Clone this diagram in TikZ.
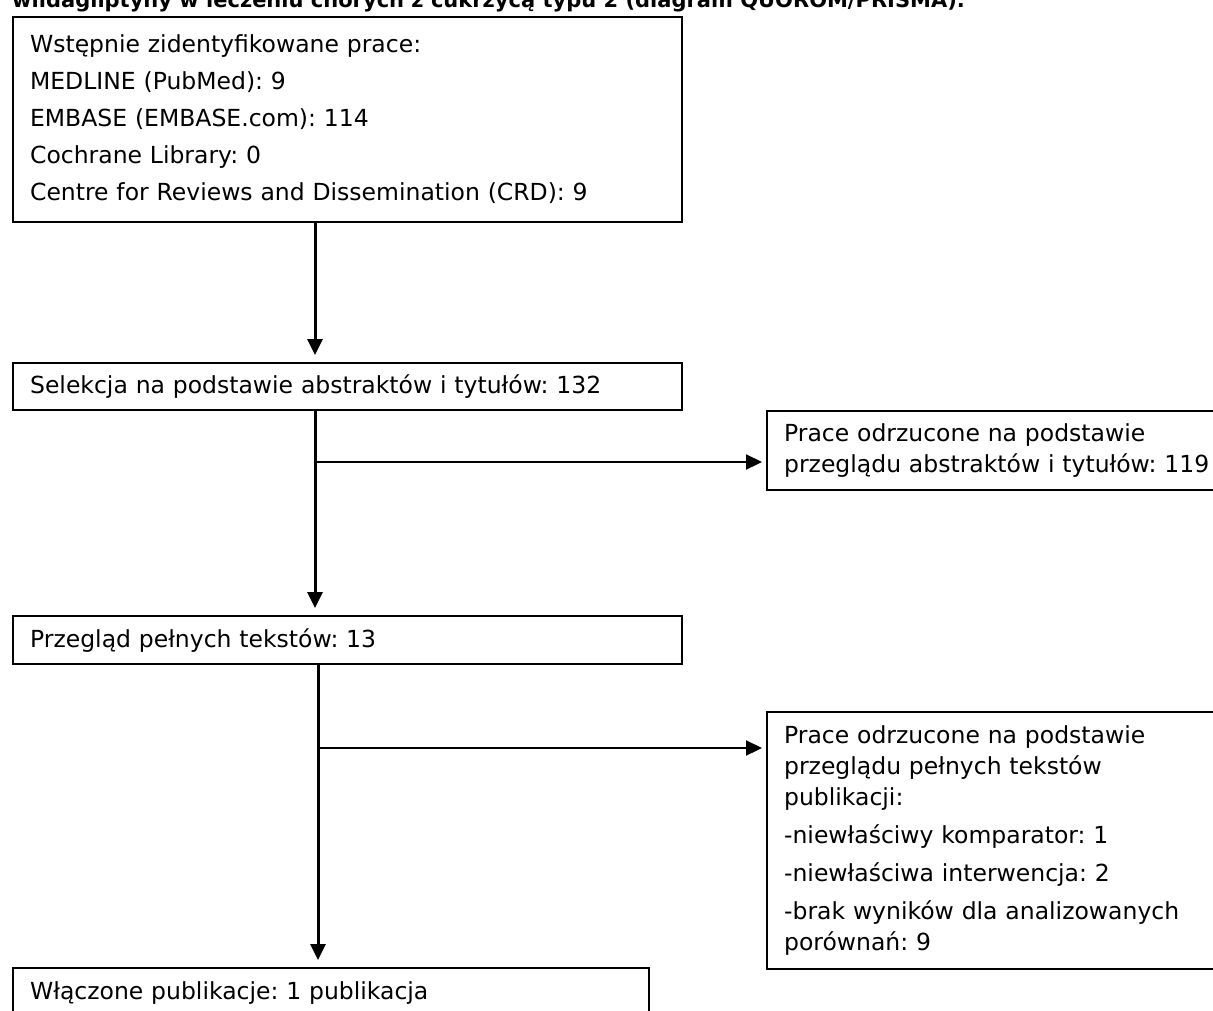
\documentclass[tikz,border=0pt]{standalone}
\usepackage{fontspec}
\setmainfont{DejaVu Sans}
\frenchspacing
\usetikzlibrary{arrows.meta,calc}
\begin{document}
\begin{tikzpicture}[x=1pt,y=-1pt,>={Triangle[length=16pt,width=15pt]},
    every node/.style={font=\fontsize{23.5}{37}\selectfont},
    box/.style={draw,line width=2.2pt,anchor=north west,align=left,inner xsep=17pt,inner ysep=0pt},
    sidebox/.style={box,font=\fontsize{23.5}{31}\selectfont,text width=500pt},
    flow/.style={line width=3pt,->,shorten >=7pt},
    branch/.style={line width=2.2pt,->,shorten >=4pt}]
    \useasboundingbox (0,0) rectangle (1213,1010);
    \node[anchor=base east,inner sep=0pt,font=\bfseries\fontsize{21}{25}\selectfont] (title) at (965,7)
        {wildagliptyny w leczeniu chorych z cukrzycą typu 2 (diagram QUOROM/PRISMA).};
    \node[box,text width=635pt,minimum height=205pt] (ident) at (12,16)
        {Wstępnie zidentyfikowane prace:\\MEDLINE (PubMed): 9\\EMBASE (EMBASE.com): 114\\Cochrane Library: 0\\Centre for Reviews and Dissemination (CRD): 9};
    \node[box,text width=635pt,minimum height=47pt] (sel) at (12,362) {Selekcja na podstawie abstraktów i tytułów: 132};
    \node[box,text width=635pt,minimum height=48pt] (full) at (12,615) {Przegląd pełnych tekstów: 13};
    \node[box,text width=602pt,minimum height=50pt] (incl) at (12,967) {Włączone publikacje: 1 publikacja};
    \node[sidebox,minimum height=79pt] (excl1) at (766,410) {Prace odrzucone na podstawie\\przeglądu abstraktów i tytułów: 119};
    \node[sidebox,minimum height=257pt] (excl2) at (766,711)
        {Prace odrzucone na podstawie\\przeglądu pełnych tekstów\\publikacji:\\[7pt]-niewłaściwy komparator: 1\\[7pt]-niewłaściwa interwencja: 2\\[7pt]-brak wyników dla analizowanych\\porównań: 9};
    % connectors
    \coordinate (c1) at (315,0);
    \coordinate (c2) at (318,0);
    \coordinate (b1) at (315,462);
    \coordinate (b2) at (318,748);
    \draw[flow] (c1 |- ident.south) -- (c1 |- sel.north);
    \draw[flow] (c1 |- sel.south) -- (c1 |- full.north);
    \draw[flow] (c2 |- full.south) -- (c2 |- incl.north);
    \draw[branch] (b1) -- (b1 -| excl1.west);
    \draw[branch] (b2) -- (b2 -| excl2.west);
\end{tikzpicture}
\end{document}
